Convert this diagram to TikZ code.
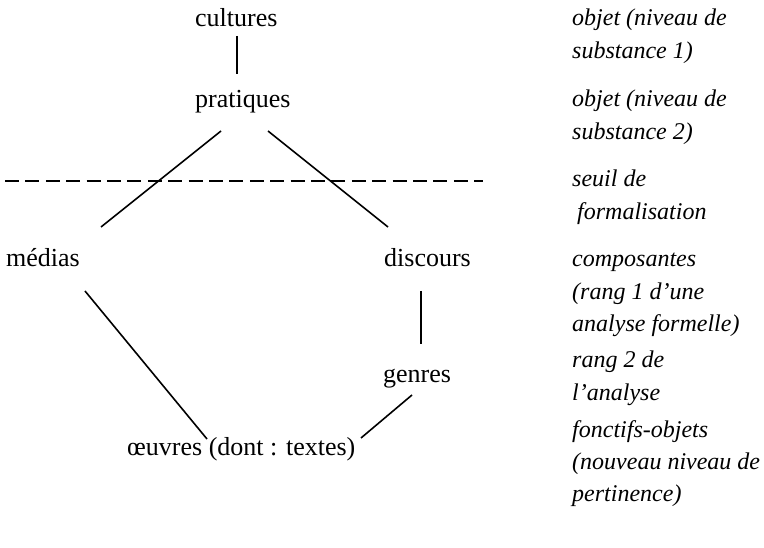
\documentclass[tikz,border=0pt]{standalone}
\usepackage{fontspec}
\setmainfont{Liberation Serif}
\begin{document}
\begin{tikzpicture}[x=1pt,y=-1pt,
  lbl/.style={anchor=base west,inner sep=0pt,font=\fontsize{26}{30}\selectfont},
  note/.style={anchor=base west,inner sep=0pt,font=\fontsize{24}{32.5}\selectfont\itshape},
  link/.style={line width=1.6pt},
  threshold/.style={line width=1.5pt,dash pattern=on 14pt off 6.4pt}]
\useasboundingbox (0,0) rectangle (764,548);
% main labels
\node[lbl] (cultures) at (195,27) {cultures};
\node[lbl] (pratiques) at (195,108) {pratiques};
\node[lbl] (medias) at (6,267) {médias};
\node[lbl] (discours) at (384,267) {discours};
\node[lbl] (genres) at (383,382) {genres};
\node[lbl] (oeuvres) at (127,455) {œuvres (dont : textes)};
% right-hand notes
\node[note] (n1) at (572,26) {\begin{tabular}[t]{@{}l@{}}objet (niveau de\\substance 1)\end{tabular}};
\node[note] (n2) at (572,107) {\begin{tabular}[t]{@{}l@{}}objet (niveau de\\substance 2)\end{tabular}};
\node[note] (n3) at (572,187) {\begin{tabular}[t]{@{}l@{}}seuil de\\\hspace*{5pt}formalisation\end{tabular}};
\node[note] (n4) at (572,267) {\begin{tabular}[t]{@{}l@{}}composantes\\(rang 1 d’une\\analyse formelle)\end{tabular}};
\node[note] (n5) at (572,368) {\begin{tabular}[t]{@{}l@{}}rang 2 de\\l’analyse\end{tabular}};
\node[note] (n6) at (572,437) {\begin{tabular}[t]{@{}l@{}}fonctifs-objets\\(nouveau niveau de\\pertinence)\end{tabular}};
% connector end points
\coordinate (cu-s) at (237,36);
\coordinate (pr-n) at (237,74);
\coordinate (pr-sw) at (221,131);
\coordinate (me-ne) at (101,227);
\coordinate (pr-se) at (268,131);
\coordinate (di-nw) at (388,227);
\coordinate (me-s) at (85,291);
\coordinate (oe-nw) at (207,439);
\coordinate (di-s) at (421,291);
\coordinate (ge-n) at (421,344);
\coordinate (ge-s) at (412,395);
\coordinate (oe-ne) at (361,438);
\coordinate (th-w) at (5,181);
\coordinate (th-e) at (483,181);
% connectors
\draw[link] (cu-s) -- (pr-n);
\draw[link] (pr-sw) -- (me-ne);
\draw[link] (pr-se) -- (di-nw);
\draw[link] (me-s) -- (oe-nw);
\draw[link] (di-s) -- (ge-n);
\draw[link] (ge-s) -- (oe-ne);
\draw[threshold] (th-w) -- (th-e);
\end{tikzpicture}
\end{document}
